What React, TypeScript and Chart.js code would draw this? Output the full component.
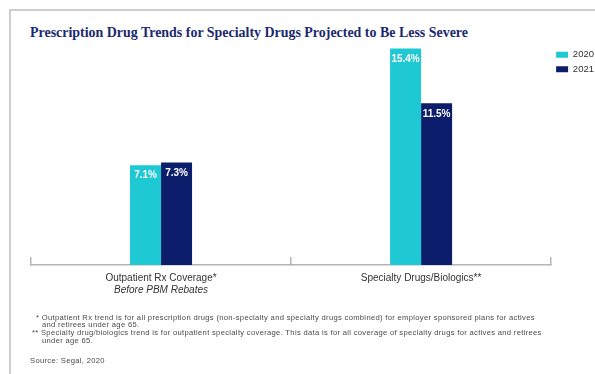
import React, { useEffect, useRef } from "react";
import { Chart, registerables } from "chart.js";

Chart.register(...registerables);

const categories = ["Outpatient Rx Coverage*", "Specialty Drugs/Biologics**"];
const seriesNames = ["2020", "2021"];
const values2020 = [7.1, 15.4];
const values2021 = [7.3, 11.5];
const seriesColors = ["#1fc9d3", "#0b1d6b"];

const titleText = "Prescription Drug Trends for Specialty Drugs Projected to Be Less Severe";
const subLabel = "Before PBM Rebates";
const footnoteLines = [
  "* Outpatient Rx trend is for all prescription drugs (non-specialty and specialty drugs combined) for employer sponsored plans for actives",
  "and retirees under age 65.",
  "** Specialty drug/biologics trend is for outpatient specialty coverage. This data is for all coverage of specialty drugs for actives and retirees",
  "under age 65.",
];
const sourceText = "Source: Segal, 2020";

const valueLabelPlugin = {
  id: "valueLabels",
  afterDatasetsDraw(chart: any) {
    const ctx = chart.ctx;
    ctx.save();
    ctx.fillStyle = "#ffffff";
    ctx.font = "bold 10px 'Liberation Sans', Arial, sans-serif";
    ctx.textAlign = "center";
    ctx.textBaseline = "middle";
    chart.data.datasets.forEach((ds: any, di: number) => {
      const meta = chart.getDatasetMeta(di);
      meta.data.forEach((el: any, i: number) => {
        const v = ds.data[i];
        ctx.fillText(v.toFixed(1) + "%", el.x, el.y + 10.5);
      });
    });
    ctx.restore();
  },
};

function BarChart() {
  const ref = useRef<HTMLCanvasElement | null>(null);
  useEffect(() => {
    if (!ref.current) return;
    const chart = new Chart(ref.current, {
      type: "bar",
      data: {
        labels: categories,
        datasets: [
          { label: seriesNames[0], data: values2020, backgroundColor: seriesColors[0] },
          { label: seriesNames[1], data: values2021, backgroundColor: seriesColors[1] },
        ],
      },
      options: {
        animation: false,
        responsive: false,
        maintainAspectRatio: false,
        devicePixelRatio: 1,
        layout: { padding: { left: 31, top: 45, right: 0, bottom: 75 } },
        datasets: {
          bar: { barPercentage: 1, categoryPercentage: 0.2385 },
        },
        plugins: {
          legend: {
            display: true,
            position: "right",
            align: "start",
            fullSize: false,
            labels: {
              boxWidth: 12,
              boxHeight: 6,
              padding: 5,
              color: "#333333",
              font: { size: 9.5, family: "'Liberation Sans', Arial, sans-serif" },
            },
          },
          title: { display: false },
          tooltip: { enabled: false },
        },
        scales: {
          x: {
            grid: {
              display: true,
              offset: true,
              drawOnChartArea: false,
              drawTicks: true,
              tickLength: -8,
              color: "#b5b5b5",
              lineWidth: 1.5,
            },
            border: { display: true, color: "#b5b5b5", width: 1.5 },
            ticks: {
              padding: 15,
              color: "#333333",
              font: { size: 10, family: "'Liberation Sans', Arial, sans-serif" },
            },
          },
          y: {
            display: false,
            min: 0,
            max: 15.65,
          },
        },
      },
      plugins: [valueLabelPlugin],
    } as any);
    return () => chart.destroy();
  }, []);
  return <canvas ref={ref} width={604} height={374} style={{ position: "absolute", left: 0, top: 0, width: 604, height: 374 }} />;
}

export default function App() {
  return (
    <div
      style={{
        position: "fixed",
        left: 0,
        top: 0,
        width: 595,
        height: 374,
        overflow: "hidden",
        background: "#ffffff",
        fontFamily: "'Liberation Sans', Arial, sans-serif",
      }}
    >
      <div
        style={{
          position: "absolute",
          left: 9,
          top: 9,
          width: 584,
          height: 363,
          borderTop: "2px solid #cfcfcf",
          borderLeft: "2px solid #cfcfcf",
        }}
      />
      <div
        style={{
          position: "absolute",
          left: 30,
          top: 25,
          fontFamily: "'Liberation Serif', 'Times New Roman', serif",
          fontWeight: "bold",
          fontSize: 13.95,
          lineHeight: "16px",
          color: "#1b2a6e",
          whiteSpace: "nowrap",
        }}
      >
        {titleText}
      </div>
      <BarChart />
      <div
        style={{
          position: "absolute",
          left: 161 - 60,
          width: 120,
          top: 284,
          textAlign: "center",
          fontStyle: "italic",
          fontSize: 10,
          lineHeight: "12px",
          color: "#333333",
          whiteSpace: "nowrap",
        }}
      >
        {subLabel}
      </div>
      {footnoteLines.map((t, i) => (
        <div
          key={i}
          style={{
            position: "absolute",
            left: i === 0 ? 36 : i === 2 ? 32 : 42,
            top: 312.5 + i * 7.8,
            fontSize: 7.6,
            letterSpacing: "0.32px",
            lineHeight: "9px",
            color: "#4a4a4a",
            whiteSpace: "nowrap",
          }}
        >
          {t}
        </div>
      ))}
      <div
        style={{
          position: "absolute",
          left: 30,
          top: 355.5,
          fontSize: 7.6,
          letterSpacing: "0.32px",
          lineHeight: "9px",
          color: "#4a4a4a",
          whiteSpace: "nowrap",
        }}
      >
        {sourceText}
      </div>
    </div>
  );
}
